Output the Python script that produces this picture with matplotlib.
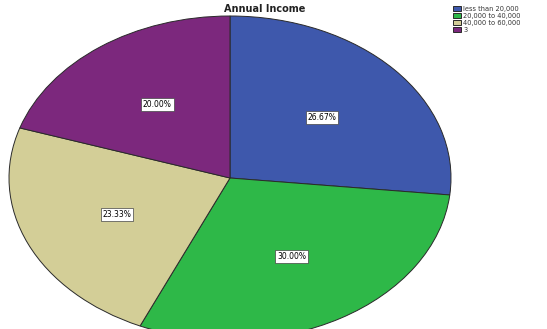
import matplotlib
matplotlib.use("Agg")
import matplotlib.pyplot as plt

# Annual income distribution of respondents
categorias = ["less than 20,000", "20,000 to 40,000", "40,000 to 60,000", "3"]
percentuais = [26.67, 30.00, 23.33, 20.00]
cores = ["#3E58AC", "#2EB848", "#D3CE97", "#7C287D"]

W, H = 547, 329
fig = plt.figure(figsize=(W / 100, H / 100), dpi=100)
fig.patch.set_facecolor("white")

# elliptical pie: centre and radii in pixels
cx, cy, rx, ry = 230, 178, 221, 162
ax = fig.add_axes([(cx - rx) / W, (H - cy - ry) / H, 2 * rx / W, 2 * ry / H])
ax.axis("off")

fatias, textos, autotextos = ax.pie(
    percentuais, colors=cores, startangle=90, counterclock=False,
    autopct="%.2f%%", pctdistance=0.56, radius=1,
    wedgeprops=dict(edgecolor="#2a2a2a", linewidth=0.7),
    textprops=dict(fontsize=5.5, color="black"),
    frame=False,
)
ax.set_xlim(-1, 1)
ax.set_ylim(-1, 1)
ax.set_aspect("auto")
for t in autotextos:
    t.set_bbox(dict(boxstyle="square,pad=0.25", facecolor="white",
                    edgecolor="#444444", linewidth=0.5))

fig.text(265 / W, 1 - 9 / H, "Annual Income", ha="center", va="center",
         fontsize=7, fontweight="bold", color="#222222")

leg = fig.legend(fatias, categorias, loc="upper left",
                 bbox_to_anchor=(450 / W, 1 - 3 / H), frameon=False,
                 fontsize=4.8, handlelength=1.2, handleheight=0.8,
                 handletextpad=0.4, labelspacing=0.15, borderaxespad=0)
for txt in leg.get_texts():
    txt.set_color("#333333")

fig.savefig("out.png", dpi=100)
